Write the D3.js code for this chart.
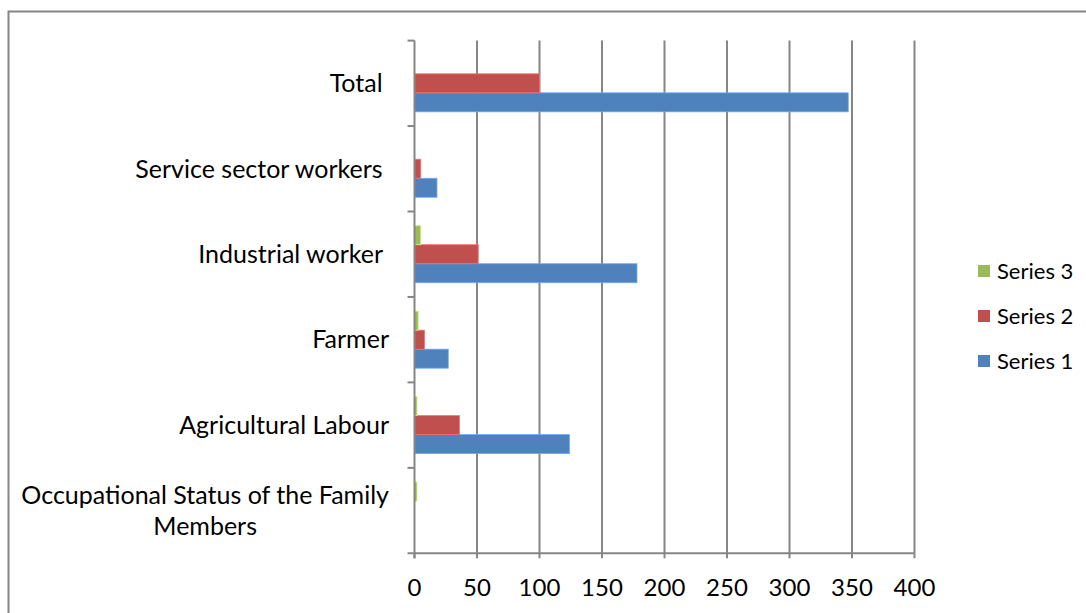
<!DOCTYPE html>
<html lang="en">
<head>
  <meta charset="UTF-8" />
  <title>Occupational Status of the Family Members</title>
  <script src="https://d3js.org/d3.v7.min.js"></script>
  <style>
    body { margin: 0; background: #fff; }
    svg { display: block; }
    text { font-family: Lato, "Open Sans", sans-serif; fill: #000; }
    .cat { font-size: 25px; white-space: pre; }
    .tick-label { font-size: 24px; }
    .legend-label { font-size: 22px; }
  </style>
</head>
<body>
  <svg id="chart"></svg>
  <script>
    // categories from top to bottom, labels keep their trailing spaces
    const categories = ["Total ", "Service sector workers ", "Industrial worker ", "Farmer", "Agricultural Labour", "Occupational Status of the Family Members"];
    const catLines = [["Total "], ["Service sector workers "], ["Industrial worker "], ["Farmer"], ["Agricultural Labour"], ["Occupational Status of the Family", "Members"]];
    const seriesNames = ["Series 1", "Series 2", "Series 3"];
    const series1 = [347, 18, 178, 27, 124, 0];
    const series2 = [100, 5, 51, 8, 36, 0];
    const series3 = [0, 0, 5, 3, 2, 2];
    const xTicks = [0, 50, 100, 150, 200, 250, 300, 350, 400];
    const colors = ["#4F81BD", "#C0504D", "#9BBB59"];

    const W = 1086, H = 613;
    const plot = { left: 414.5, right: 914.5, top: 40.6, bottom: 553.3 };

    const svg = d3.select("#chart").attr("width", W).attr("height", H);

    // outer chart frame
    svg.append("rect")
      .attr("x", 8.5).attr("y", 11.5)
      .attr("width", 1200).attr("height", 800)
      .attr("fill", "none")
      .attr("stroke", "#868686")
      .attr("stroke-width", 2);

    const x = d3.scaleLinear().domain([0, 400]).range([plot.left, plot.right]);
    const y = d3.scaleBand().domain(categories).range([plot.top, plot.bottom]).padding(0);

    const barH = 19;
    // series stacked top to bottom: 3, 2, 1
    const ySub = d3.scaleBand().domain(["Series 3", "Series 2", "Series 1"]).range([-barH * 1.5, barH * 1.5]).padding(0);

    // vertical gridlines
    svg.append("g").selectAll("line")
      .data(xTicks.slice(1))
      .join("line")
        .attr("x1", d => x(d)).attr("x2", d => x(d))
        .attr("y1", plot.top).attr("y2", plot.bottom)
        .attr("stroke", "#868686")
        .attr("stroke-width", 2);

    // bars
    const allSeries = [series1, series2, series3];
    const rows = [];
    categories.forEach((c, i) => {
      seriesNames.forEach((s, j) => {
        rows.push({ cat: c, series: s, value: allSeries[j][i], color: colors[j] });
      });
    });

    svg.append("g").selectAll("rect")
      .data(rows.filter(d => d.value > 0))
      .join("rect")
        .attr("x", x(0))
        .attr("y", d => y(d.cat) + y.bandwidth() / 2 + ySub(d.series))
        .attr("width", d => x(d.value) - x(0))
        .attr("height", ySub.bandwidth())
        .attr("fill", d => d.color)
        .attr("stroke", d => d3.color(d.color).brighter(0.8))
        .attr("stroke-width", 0.8);

    // x axis
    const xAxis = svg.append("g").attr("transform", `translate(0,${plot.bottom})`);
    xAxis.append("line")
      .attr("x1", plot.left - 7).attr("x2", plot.right)
      .attr("stroke", "#868686").attr("stroke-width", 2);
    xAxis.selectAll("line.tk")
      .data(xTicks)
      .join("line")
        .attr("class", "tk")
        .attr("x1", d => x(d)).attr("x2", d => x(d))
        .attr("y1", 0).attr("y2", 5)
        .attr("stroke", "#868686").attr("stroke-width", 2);
    xAxis.selectAll("text")
      .data(xTicks)
      .join("text")
        .attr("class", "tick-label")
        .attr("x", d => x(d))
        .attr("y", 43)
        .attr("text-anchor", "middle")
        .text(d => d);

    // y axis
    const yAxis = svg.append("g");
    yAxis.append("line")
      .attr("x1", plot.left).attr("x2", plot.left)
      .attr("y1", plot.top).attr("y2", plot.bottom + 5)
      .attr("stroke", "#868686").attr("stroke-width", 2);
    const bounds = categories.map(c => y(c));
    yAxis.selectAll("line.tk")
      .data(bounds)
      .join("line")
        .attr("class", "tk")
        .attr("x1", plot.left - 7).attr("x2", plot.left)
        .attr("y1", d => d).attr("y2", d => d)
        .attr("stroke", "#868686").attr("stroke-width", 2);

    // category labels
    const lineH = 31;
    categories.forEach((c, i) => {
      const lines = catLines[i];
      const cy = y(c) + y.bandwidth() / 2;
      const t = yAxis.append("text")
        .attr("class", "cat")
        .attr("text-anchor", "middle");
      lines.forEach((ln, k) => {
        t.append("tspan")
          .attr("x", 0)
          .attr("y", cy + (k - (lines.length - 1) / 2) * lineH)
          .attr("dy", "0.35em")
          .text(ln);
      });
      // right-align the block at x = 389, centre its lines on each other
      const w = t.node().getBBox().width;
      t.selectAll("tspan").attr("x", 389 - w / 2);
    });

    // legend
    const legendOrder = [2, 1, 0];
    const leg = svg.append("g");
    legendOrder.forEach((j, k) => {
      const cy = 271 + k * 45;
      leg.append("rect")
        .attr("x", 978).attr("y", cy - 6)
        .attr("width", 12).attr("height", 12)
        .attr("fill", colors[j]);
      leg.append("text")
        .attr("class", "legend-label")
        .attr("x", 997).attr("y", cy)
        .attr("dy", "0.35em")
        .text(seriesNames[j]);
    });
  </script>
</body>
</html>
